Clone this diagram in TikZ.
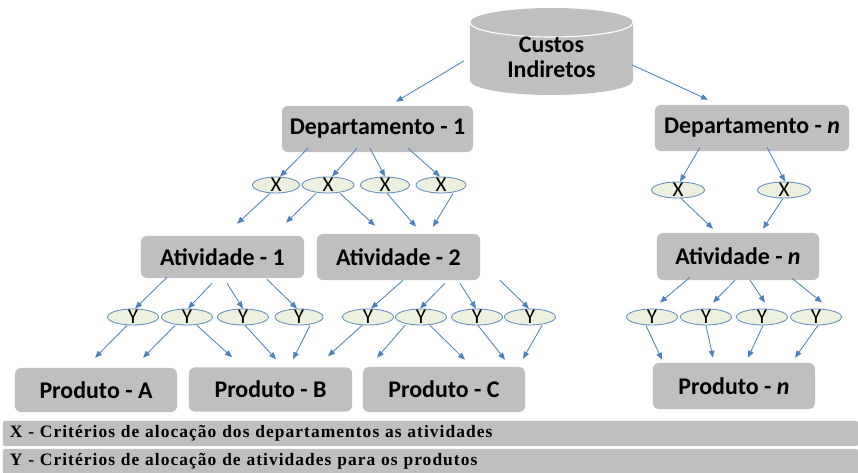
\documentclass[tikz,border=0pt]{standalone}
\usepackage{fontspec}
\setmainfont{Liberation Serif}
\newfontfamily\calib{Carlito}
\newfontfamily\legfont[LetterSpace=6]{Liberation Serif}
\usetikzlibrary{shapes.geometric,arrows.meta}

\definecolor{boxgray}{RGB}{191,191,191}
\definecolor{critfill}{RGB}{235,241,222}
\definecolor{critline}{RGB}{100,140,190}
\definecolor{arrblue}{RGB}{79,129,189}

\begin{document}
\begin{tikzpicture}[x=0.025cm,y=0.025cm,
  box/.style={fill=boxgray,rounded corners=0.15cm,inner sep=0pt,minimum width=4.075cm,minimum height=1.1cm,font=\calib\bfseries\fontsize{17}{20}\selectfont},
  crit/.style={ellipse,draw=critline,fill=critfill,line width=0.6pt,inner xsep=0pt,inner ysep=-1.5pt,minimum width=1.275cm,minimum height=0.4cm,text height=9.6pt,text depth=0pt,font=\calib\fontsize{15}{17}\selectfont},
  arr/.style={draw=arrblue,line width=0.6pt,-{Triangle[length=5pt,width=4pt]}},
  legbar/.style={fill=boxgray,rounded corners=0.05cm,inner xsep=0.175cm,inner ysep=0pt,text width=21.025cm,align=left,minimum height=0.625cm,font=\legfont\bfseries\fontsize{12.4}{14}\selectfont}]
\useasboundingbox (0,0) rectangle (858,-473);
\fill[boxgray] (470,-22.5) -- (470,-80.5) arc[start angle=180,end angle=360,x radius=81.5,y radius=14.5] -- (633,-22.5) arc[start angle=0,end angle=180,x radius=81.5,y radius=14.5] -- cycle;
\draw[white,line width=0.8pt] (470,-22.5) arc[start angle=180,end angle=360,x radius=81.5,y radius=14.5];
\node[inner sep=0pt,minimum width=4.075cm,minimum height=1.875cm,align=center,font=\calib\bfseries\fontsize{17}{18}\selectfont] (custos) at (551.5,-57) {Custos\\Indiretos};
\node[box,minimum width=4.775cm,minimum height=1.15cm] (d1) at (377.5,-129) {Departamento - 1};
\node[box,minimum width=4.85cm,minimum height=1.15cm] (dn) at (752,-128) {Departamento - \textit{n}};
\node[crit,minimum width=1.175cm] (x1) at (276,-185) {X};
\node[crit,minimum width=1.3cm] (x2) at (328,-185) {X};
\node[crit,minimum width=1.225cm] (x3) at (385,-185) {X};
\node[crit,minimum width=1.25cm] (x4) at (441,-185) {X};
\node[crit,minimum width=1.325cm] (xn1) at (678,-190) {X};
\node[crit,minimum width=1.325cm] (xn2) at (784,-190) {X};
\node[box,minimum height=1.05cm] (a1) at (222.5,-257) {Atividade - 1};
\node[box,minimum height=1.15cm] (a2) at (398.5,-257) {Atividade - 2};
\node[box,minimum width=4.05cm,minimum height=1.175cm] (an) at (738,-256.5) {Atividade - \textit{n}};
\node[crit] (y1) at (133,-317) {Y};
\node[crit] (y2) at (187,-317) {Y};
\node[crit] (y3) at (243,-317) {Y};
\node[crit,minimum width=1.2cm] (y4) at (299,-317) {Y};
\node[crit] (y5) at (368,-317) {Y};
\node[crit] (y6) at (421,-317) {Y};
\node[crit] (y7) at (477,-317) {Y};
\node[crit] (y8) at (530,-317) {Y};
\node[crit] (yn1) at (652,-317) {Y};
\node[crit] (yn2) at (706,-317) {Y};
\node[crit] (yn3) at (762,-317) {Y};
\node[crit] (yn4) at (816,-317) {Y};
\node[box,minimum width=4.05cm] (pa) at (96,-390) {Produto - A};
\node[box] (pb) at (270.5,-389.5) {Produto - B};
\node[box,minimum width=4.05cm,minimum height=1.125cm] (pc) at (444,-389.5) {Produto - C};
\node[box,minimum width=4.05cm,minimum height=1.15cm] (pn) at (734,-386) {Produto - \textit{n}};
\node[legbar] (legx) at (430.5,-433.5) {X - Critérios de alocação dos departamentos as atividades};
\node[legbar] (legy) at (430.5,-461.5) {Y - Critérios de alocação de atividades para os produtos};
\draw[arr] ([shift={(-6,-4)}]custos.west) -- ([shift={(18.5,4)}]d1.north);
\draw[arr] ([shift={(-1,-8)}]custos.east) -- ([shift={(-44,5)}]dn.north);
\draw[arr] ([shift={(-69.5,4)}]d1.south) -- ([shift={(4,0)}]x1.north);
\draw[arr] ([shift={(-20.5,4)}]d1.south) -- ([shift={(4,0)}]x2.north);
\draw[arr] ([shift={(-7.5,4)}]d1.south) -- (x3.north);
\draw[arr] ([shift={(30.5,4)}]d1.south) -- ([shift={(-1,0)}]x4.north);
\draw[arr] ([shift={(-6,0)}]x1.south) -- ([shift={(14.5,12)}]a1.north);
\draw[arr] ([shift={(-12,0)}]x2.south) -- ([shift={(63.5,13)}]a1.north);
\draw[arr] ([shift={(12,0)}]x2.south) -- ([shift={(-23.5,8)}]a2.north);
\draw[arr] ([shift={(2,0)}]x3.south) -- ([shift={(17.5,7)}]a2.north);
\draw[arr] ([shift={(12,0)}]x4.south) -- ([shift={(34.5,7)}]a2.north);
\draw[arr] ([shift={(-52,4)}]dn.south) -- ([shift={(2,0)}]xn1.north);
\draw[arr] ([shift={(15,4)}]dn.south) -- ([shift={(1,0)}]xn2.north);
\draw[arr] ([shift={(3,0)}]xn1.south) -- ([shift={(-25,4)}]an.north);
\draw[arr] ([shift={(-1,0)}]xn2.south) -- ([shift={(25,4)}]an.north);
\draw[arr] ([shift={(-55.5,1)}]a1.south) -- ([shift={(2,0)}]y1.north);
\draw[arr] ([shift={(-10.5,-5)}]a1.south) -- ([shift={(1,0)}]y2.north);
\draw[arr] ([shift={(4.5,-5)}]a1.south) -- (y3.north);
\draw[arr] ([shift={(44.5,-1)}]a1.south) -- ([shift={(-2,0)}]y4.north);
\draw[arr] ([shift={(4.5,0)}]a2.south) -- ([shift={(3,0)}]y5.north);
\draw[arr] ([shift={(46.5,-3)}]a2.south) -- ([shift={(-1,0)}]y6.north);
\draw[arr] ([shift={(61.5,-3)}]a2.south) -- ([shift={(-1,0)}]y7.north);
\draw[arr] ([shift={(101.5,0)}]a2.south) -- ([shift={(-1,0)}]y8.north);
\draw[arr] ([shift={(-48,3)}]an.south) -- ([shift={(8,6)}]yn1.north);
\draw[arr] ([shift={(-3,0)}]an.south) -- ([shift={(7,6)}]yn2.north);
\draw[arr] ([shift={(12,0)}]an.south) -- ([shift={(3,6)}]yn3.north);
\draw[arr] ([shift={(54,2)}]an.south) -- ([shift={(6,6)}]yn4.north);
\draw[arr] ([shift={(-6,0)}]y1.south) -- ([shift={(-1,10)}]pa.north);
\draw[arr] ([shift={(-12,0)}]y2.south) -- ([shift={(47,10)}]pa.north);
\draw[arr] ([shift={(10,0)}]y2.south) -- ([shift={(-38.5,10)}]pb.north);
\draw[arr] ([shift={(2,0)}]y3.south) -- ([shift={(5.5,8)}]pb.north);
\draw[arr] ([shift={(11,0)}]y4.south) -- ([shift={(22.5,8)}]pb.north);
\draw[arr] ([shift={(-6,0)}]y5.south) -- ([shift={(57.5,11)}]pb.north);
\draw[arr] ([shift={(-16,0)}]y6.south) -- ([shift={(-67,9)}]pc.north);
\draw[arr] ([shift={(9,0)}]y6.south) -- ([shift={(21,7)}]pc.north);
\draw[arr] ([shift={(1,0)}]y7.south) -- ([shift={(61,7)}]pc.north);
\draw[arr] ([shift={(12,0)}]y8.south) -- ([shift={(79,8)}]pc.north);
\draw[arr] ([shift={(-6,0)}]yn1.south) -- ([shift={(-72,3)}]pn.north);
\draw[arr] (yn2.south) -- ([shift={(-21,5)}]pn.north);
\draw[arr] ([shift={(1,0)}]yn3.south) -- ([shift={(14,5)}]pn.north);
\draw[arr] ([shift={(2,0)}]yn4.south) -- ([shift={(61,5)}]pn.north);
\end{tikzpicture}
\end{document}
